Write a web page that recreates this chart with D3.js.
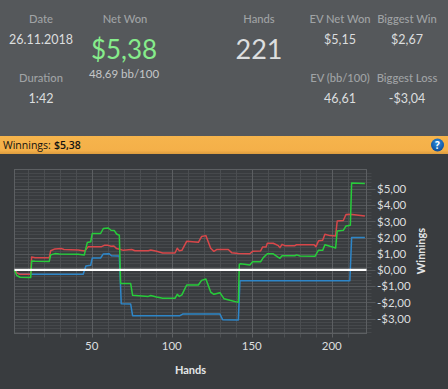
<!DOCTYPE html>
<html><head><meta charset="utf-8">
<script src="https://cdn.jsdelivr.net/npm/d3@7"></script>
<style>html,body{margin:0;padding:0;background:#393c3f;overflow:hidden}svg{display:block}text{font-family:Lato,sans-serif}</style>
</head><body><div id="c"></div>
<script>
const greenHands=[1.3,2.7,4.8,11.5,12.1,14.2,23.1,24,26.7,29.4,41.2,45,46.9,49,50,55.2,56.9,60,61.7,63.8,65.2,66.9,67.7,74,75.2,85,86.5,90.2,94,101.7,103.1,104.4,106,109,116.3,118.3,121,124,126,129.8,132.3,136,141.3,141.9,142.7,148.5,150.2,155.2,156.9,159.4,163.1,166.3,167.3,168.6,176.7,177.7,179.8,189.2,191.3,194,195.4,198.6,202.1,203.1,206.9,208.6,211.3,212.1,220.4];
const greenValues=[0,-.33,-.45,-.47,.55,.54,.53,.93,1.01,.99,.97,.93,1.7,1.74,2.25,2.25,2.56,2.59,2.45,2.43,2.22,2.14,-.84,-.84,-1.56,-1.63,-1.58,-1.67,-1.75,-1.75,-1.5,-1.63,-1.54,-.93,-.93,-.64,-.56,-1.36,-1.5,-1.4,-1.77,-1.87,-2,.35,.39,.31,.51,.51,.76,1,1,.78,.72,.88,.88,.93,.86,.84,1.21,1.21,1.56,1.46,1.36,2.41,2.45,2.72,2.76,5.37,5.33];
const redHands=[1.3,2.7,4.8,11.5,12.1,14.2,23.1,24,26.7,30.8,32.3,41.2,45.3,47.5,55.8,57.5,60,61.7,63.5,65.2,67.7,69.4,74.6,76.7,85,86.5,90.2,94,101.7,103.1,104.4,106,109,116.3,118.3,121,124,126,127.7,135,137.1,141.3,148.5,150.2,155.2,156.5,158.6,159.4,163.1,166.3,167.3,168.6,170.4,176.7,177.7,188.6,189.8,191.5,194,195.4,198.6,202.1,203.1,206.9,208.6,211.3,220.4];
const redValues=[0,-.16,-.27,-.27,.8,.76,.76,1.19,1.3,1.32,1.26,1.23,1.17,1.44,1.44,1.52,1.52,1.46,1.48,1.32,1.26,1.21,1.26,1.19,1.19,1.23,1.15,1.05,1.05,1.34,1.19,1.21,1.77,1.71,2.06,2.12,1.34,1.15,1.26,1.26,1.07,1.01,1,1.15,1.17,1.42,1.42,1.65,1.65,1.5,1.38,1.58,1.5,1.5,1.56,1.56,1.44,1.81,1.83,2.2,2.12,2.1,3.02,3.05,3.42,3.44,3.33];
const blueHands=[1.3,2.7,4.8,44.3,46,49,50,55.2,56.9,60.6,62,66.9,68.1,74,75.2,104.8,106.5,129.8,131.5,141.3,142.3,211,212.1,220.4];
const blueValues=[0,-.16,-.27,-.27,.25,.29,.74,.74,.99,1,.88,.86,-2.08,-2.1,-2.82,-2.82,-2.72,-2.72,-3.07,-3.09,-.66,-.66,2,2];
const yTicks=[-3,-2,-1,0,1,2,3,4,5];
const xTicks=[50,100,150,200];
const xMinor=[10,20,30,40,60,70,80,90,110,120,130,140,160,170,180,190,210];
const yMinor=[-3.8,-3.6,-3.4,-3.2,-2.8,-2.6,-2.4,-2.2,-1.8,-1.6,-1.4,-1.2,-.8,-.6,-.4,-.2,.2,.4,.6,.8,1.2,1.4,1.6,1.8,2.2,2.4,2.6,2.8,3.2,3.4,3.6,3.8,4.2,4.4,4.6,4.8,5.2,5.4,5.6,5.8,6];
const leftStats=[["Date","26.11.2018",41,19,34,13],["Duration","1:42",41,78,98,13]];
const rightStats=[["EV Net Won","$5,15",340,19,40,13],["Biggest Win","$2,67",407,19,40,13],["EV (bb/100)","46,61",340,78,98,13],["Biggest Loss","-$3,04",407,78,98,13]];

const W=448,H=389,L=14.5,R=366.5,T=169.5,B=333.5;
const svg=d3.select("#c").append("svg").attr("width",W).attr("height",H);
const defs=svg.append("defs");
const og=defs.append("linearGradient").attr("id","og").attr("x1",0).attr("x2",0).attr("y1",0).attr("y2",1);
og.append("stop").attr("offset",0).attr("stop-color","#f6b44c");
og.append("stop").attr("offset",.8).attr("stop-color","#f4b049");
og.append("stop").attr("offset",1).attr("stop-color","#dc9c3e");
const bg=defs.append("radialGradient").attr("id","qg").attr("cx",.5).attr("cy",.35).attr("r",.65);
bg.append("stop").attr("offset",0).attr("stop-color","#2f8fe0");
bg.append("stop").attr("offset",1).attr("stop-color","#0b4a96");

svg.append("rect").attr("width",W).attr("height",136).attr("fill","#55585b");
svg.append("rect").attr("y",136).attr("width",W).attr("height",18).attr("fill","url(#og)");
svg.append("rect").attr("y",154).attr("width",W).attr("height",H-154).attr("fill","#393c3f");

const x=d3.scaleLinear().domain([1.375,221.4]).range([L,R]);
const y=d3.scaleLinear().domain([-3.92,6.2]).range([B,T]);

const lbl="#a0a3a5",val="#dcdedf";
function text(t,xp,yp,size,fill,anchor="middle",weight=400,family){
  const s=svg.append("text").text(t).attr("x",xp).attr("y",yp).attr("font-size",size).attr("fill",fill).attr("text-anchor",anchor).attr("font-weight",weight);
  if(family) s.style("font-family",family);
  return s;
}
leftStats.concat(rightStats).forEach(s=>{text(s[0],s[2],s[3]+4,11.2,lbl,"middle",500);text(s[1],s[2],s[3]+25,12.5,val);});
text("Net Won",125,23,11.2,lbl,"middle",500);
text("$5,38",124,59,26,"#86ec8b");
text("48,69 bb/100",124,78,11.5,"#c4c6c8");
text("Hands",259,23,11.2,lbl,"middle",500);
text("221",259,59,27,val);
text("Winnings:",3,149,10.5,"#111","start",400,'"Open Sans",sans-serif');
text("$5,38",54,149,10.5,"#111","start",600,'"Open Sans",sans-serif');
svg.append("circle").attr("cx",437.5).attr("cy",145).attr("r",6.5).attr("fill","url(#qg)");
text("?",437.5,149,10,"#fff","middle",700,'"Open Sans",sans-serif');

// grid
const g=svg.append("g");
g.selectAll(".ym").data(yMinor).join("line").attr("x1",L).attr("x2",R+5).attr("y1",d=>Math.round(y(d))+.5).attr("y2",d=>Math.round(y(d))+.5).attr("stroke","#46494c");
g.selectAll(".xm").data(xMinor).join("line").attr("y1",T).attr("y2",B+4).attr("x1",d=>Math.round(x(d))+.5).attr("x2",d=>Math.round(x(d))+.5).attr("stroke","#4b4e51");
g.selectAll(".yM").data(yTicks).join("line").attr("x1",L).attr("x2",R+9).attr("y1",d=>Math.round(y(d))+.5).attr("y2",d=>Math.round(y(d))+.5).attr("stroke","#55585b");
g.selectAll(".xM").data(xTicks).join("line").attr("y1",T).attr("y2",B+4).attr("x1",d=>Math.round(x(d))+.5).attr("x2",d=>Math.round(x(d))+.5).attr("stroke","#5c5f62");
svg.append("rect").attr("x",L).attr("y",T).attr("width",R-L).attr("height",B-T).attr("fill","none").attr("stroke","#5c5f62");

// axes
const yAxis=d3.axisRight(y).tickValues(yTicks).tickSize(0).tickPadding(10.5).tickFormat(d=>(d<0?"-":"")+"$"+Math.abs(d)+",00");
const ya=svg.append("g").attr("transform",`translate(${R},0)`).call(yAxis);
ya.select(".domain").remove();
ya.selectAll("text").attr("font-size",11.5).attr("fill","#dcdedf").attr("font-family","Lato,sans-serif");
const xAxis=d3.axisBottom(x).tickValues(xTicks).tickSize(0).tickPadding(8);
const xa=svg.append("g").attr("transform",`translate(0,${B})`).call(xAxis);
xa.select(".domain").remove();
xa.selectAll("text").attr("font-size",11.5).attr("fill","#dcdedf").attr("font-family","Lato,sans-serif").attr("dx",-1);
text("Hands",190.5,374,11,"#e4e6e7","middle",700);
svg.append("text").text("Winnings").attr("transform","translate(425,251) rotate(-90)").attr("font-size",11).attr("font-weight",700).attr("fill","#e4e6e7").attr("text-anchor","middle");

// series
const line=d3.line().x(d=>x(d[0])).y(d=>y(d[1]));
[[blueHands,blueValues,"#2e86c8"],[redHands,redValues,"#d8474a"],[greenHands,greenValues,"#27cc3a"]].forEach(([h,v,c])=>{
  svg.append("path").datum(h.map((k,i)=>[k,v[i]])).attr("d",line).attr("fill","none").attr("stroke",c).attr("stroke-width",1.5).attr("stroke-linejoin","round");
});
svg.append("line").attr("x1",x.range()[0]).attr("x2",x.range()[1]).attr("y1",y(0)).attr("y2",y(0)).attr("stroke","#fff").attr("stroke-width",2.2);
</script></body></html>
